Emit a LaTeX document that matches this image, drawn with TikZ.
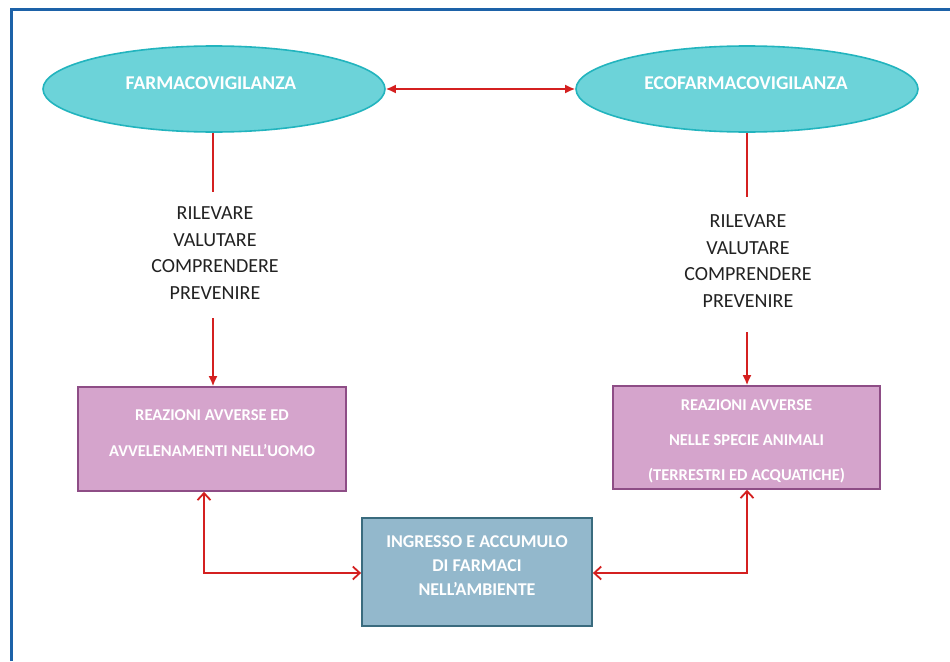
\documentclass[tikz,border=0pt]{standalone}
\usepackage{fontspec}
\setmainfont{Carlito}
\usetikzlibrary{shapes.geometric,arrows.meta}
\definecolor{framec}{HTML}{1D62A8}
\definecolor{ellfill}{HTML}{6CD3D9}
\definecolor{elldraw}{HTML}{22B4BE}
\definecolor{pinkfill}{HTML}{D5A4CC}
\definecolor{pinkdraw}{HTML}{8E4D86}
\definecolor{bluefill}{HTML}{93B8CC}
\definecolor{bluedraw}{HTML}{3A6B7E}
\definecolor{redline}{HTML}{D42020}
\definecolor{verbc}{HTML}{222222}
\tikzset{
  ell/.style={ellipse, draw=elldraw, fill=ellfill, line width=1.6pt, minimum width=342pt, minimum height=86pt, inner sep=0pt},
  elltext/.style={text=white, font=\fontsize{19.5}{24}\selectfont\bfseries},
  pinkbox/.style={rectangle, draw=pinkdraw, fill=pinkfill, line width=1.6pt, inner sep=0pt},
  bluebox/.style={rectangle, draw=bluedraw, fill=bluefill, line width=1.8pt, inner sep=0pt},
  boxtext/.style={text=white, align=center, inner sep=0pt},
  verbs/.style={text=verbc, align=center, inner sep=0pt, font=\fontsize{20}{26.7}\selectfont},
  conn/.style={draw=redline, line width=1.8pt},
  filledtip/.style={-{Latex[length=10pt,width=9pt]}},
  bothfilled/.style={{Latex[length=10pt,width=9pt]}-{Latex[length=10pt,width=9pt]}},
  opentips/.style={{Straight Barb[length=7pt,width=13pt,line width=1.8pt]}-{Straight Barb[length=7pt,width=13pt,line width=1.8pt]}}
}
\begin{document}
\begin{tikzpicture}[x=1pt,y=-1pt]
\useasboundingbox (0,0) rectangle (950,661);
\fill[white] (0,0) rectangle (950,661);
% frame
\draw[framec, line width=3pt] (11,661) -- (11,10) -- (950,10);

% ellipses
\node[ell] (FV) at (214,89) {};
\node[elltext] (FVt) at (211,83) {FARMACOVIGILANZA};
\node[ell] (EFV) at (747,89) {};
\node[elltext] (EFVt) at (746,83) {ECOFARMACOVIGILANZA};
\draw[conn, bothfilled] (FV.east) -- (EFV.west);

% verbs
\node[verbs] (VL) at (215,253) {RILEVARE\\VALUTARE\\COMPRENDERE\\PREVENIRE};
\node[verbs] (VR) at (748,261) {RILEVARE\\VALUTARE\\COMPRENDERE\\PREVENIRE};

% boxes
\node[pinkbox, minimum width=268pt, minimum height=104pt] (L) at (212,439) {};
\node[boxtext, font=\fontsize{16.5}{36}\selectfont\bfseries] (Lt) at (212,433) {REAZIONI AVVERSE ED\\AVVELENAMENTI NELL’UOMO};
\node[pinkbox, minimum width=267pt, minimum height=103pt] (R) at (746.5,437.5) {};
\node[boxtext, font=\fontsize{16.5}{35}\selectfont\bfseries] (Rt) at (746.5,441) {REAZIONI AVVERSE\\NELLE SPECIE ANIMALI\\(TERRESTRI ED ACQUATICHE)};
\node[bluebox, minimum width=230pt, minimum height=108pt] (C) at (477,572) {};
\node[boxtext, font=\fontsize{18}{24}\selectfont\bfseries] (Ct) at (477,566) {INGRESSO E ACCUMULO\\DI FARMACI\\NELL’AMBIENTE};

% vertical connectors
\coordinate (l1) at (213,192);
\coordinate (l2) at (213,318);
\coordinate (r1) at (747,197);
\coordinate (r2) at (747,332);
\draw[conn] (FV.south -| l1) -- (l1);
\draw[conn, filledtip] (l2) -- (L.north -| l2);
\draw[conn] (EFV.south -| r1) -- (r1);
\draw[conn, filledtip] (r2) -- (R.north -| r2);

% bottom connectors
\coordinate (bl) at (204,573);
\coordinate (br) at (747,573);
\draw[conn, opentips] (L.south -| bl) -- (bl) -- (C.west |- bl);
\draw[conn, opentips] (C.east |- br) -- (br) -- (R.south -| br);
\end{tikzpicture}
\end{document}
